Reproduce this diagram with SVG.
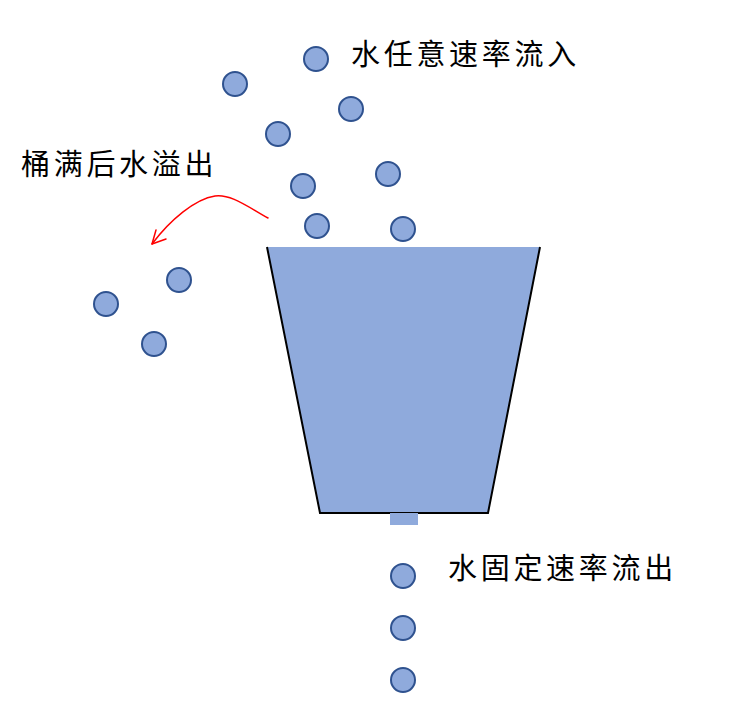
<svg xmlns="http://www.w3.org/2000/svg" width="734" height="724" viewBox="0 0 734 724">
<style>
.drop{fill:#8FAADC;stroke:#2F528F;stroke-width:2}
.lbl{font-family:"Noto Sans CJK SC","Liberation Sans",sans-serif;font-size:29px;letter-spacing:3.7px;fill:#000}
</style>
<rect width="734" height="724" fill="#fff"/>
<g id="bucket">
<polygon points="267,247 540,247 488,513 320,513" fill="#8FAADC"/>
<polyline points="267,247 320,513 488,513 540,247" fill="none" stroke="#000" stroke-width="2"/>
<rect x="390" y="513" width="28" height="12" fill="#8FAADC"/>
</g>
<g id="drops-in">
<circle class="drop" cx="316" cy="59" r="12"/>
<circle class="drop" cx="235" cy="84" r="12"/>
<circle class="drop" cx="351" cy="109" r="12"/>
<circle class="drop" cx="278" cy="134" r="12"/>
<circle class="drop" cx="303" cy="186" r="12"/>
<circle class="drop" cx="388" cy="174" r="12"/>
<circle class="drop" cx="317" cy="226" r="12"/>
<circle class="drop" cx="403" cy="229" r="12"/>
</g>
<g id="drops-spill">
<circle class="drop" cx="179" cy="280" r="12"/>
<circle class="drop" cx="106" cy="304" r="12"/>
<circle class="drop" cx="154" cy="344" r="12"/>
</g>
<g id="drops-out">
<circle class="drop" cx="403" cy="576" r="12"/>
<circle class="drop" cx="403" cy="628" r="12"/>
<circle class="drop" cx="403" cy="680" r="12"/>
</g>
<g id="connectors" fill="none" stroke="#FF0000" stroke-width="1.5" stroke-linecap="round" stroke-linejoin="round">
<path d="M268,218 C245,205 230,194 215,196 C195,199 170,220 152,244"/>
<polyline points="156,230 152,244 166,239"/>
</g>
<g id="labels">
<text class="lbl" x="351" y="65">水任意速率流入</text>
<text class="lbl" x="21" y="175">桶满后水溢出</text>
<text class="lbl" x="448" y="579">水固定速率流出</text>
</g>
</svg>
